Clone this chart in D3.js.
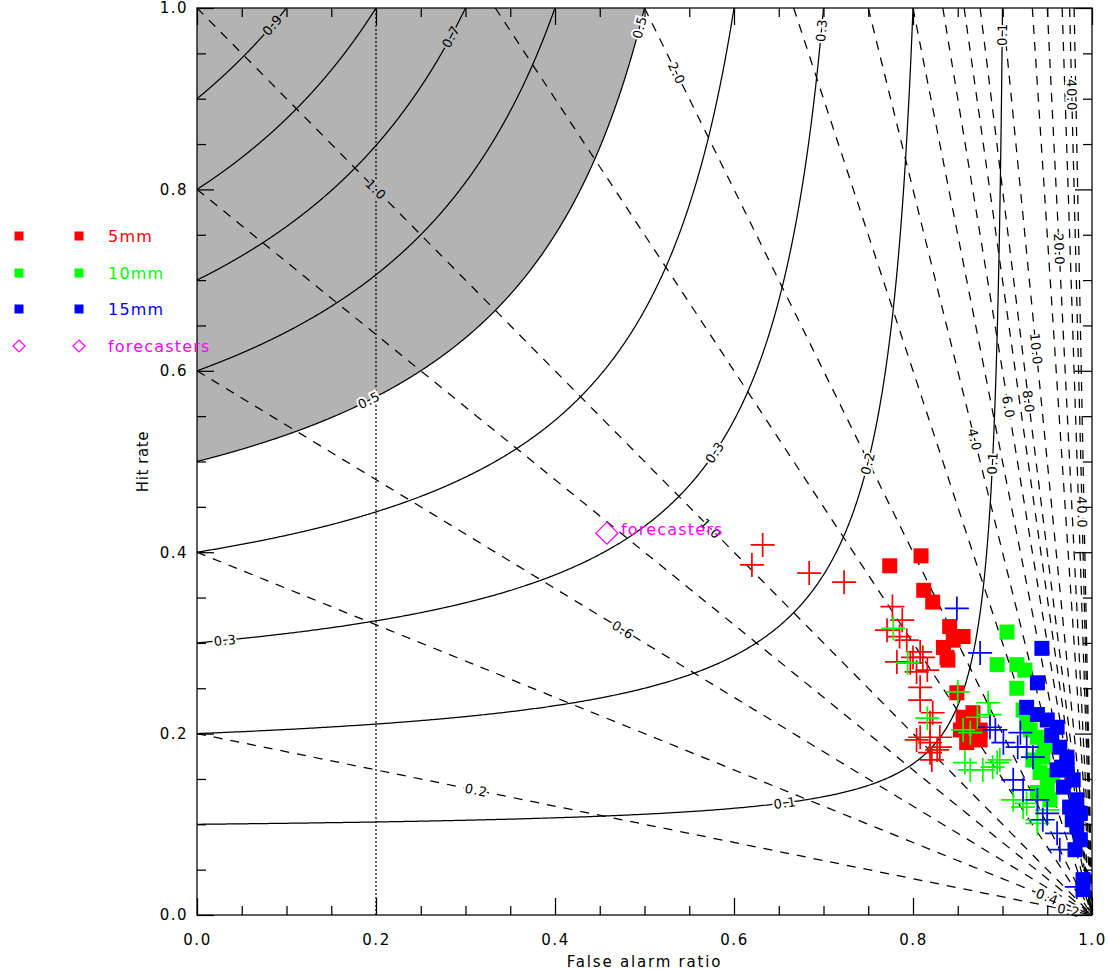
<!DOCTYPE html>
<html>
<head>
<meta charset="utf-8">
<script src="https://cdn.jsdelivr.net/npm/d3@7"></script>
<style>
  body { margin: 0; background: #fff; }
  text { font-family: "DejaVu Sans", sans-serif; }
</style>
</head>
<body>
<svg id="chart" width="1109" height="970"></svg>
<script>
// ---- contour levels ----
const csiLevels  = [0.1, 0.2, 0.3, 0.4, 0.5, 0.6, 0.7, 0.8, 0.9];
const biasLevels = [0.2, 0.4, 0.6, 0.8, 1.0, 1.5, 2.0, 3.0, 4.0, 5.0, 6.0, 7.0, 8.0, 10.0, 15.0, 20.0, 30.0, 40.0, 50.0];

// ---- axis ticks ----
const majorTicks = [0.0, 0.2, 0.4, 0.6, 0.8, 1.0];
const tickLabels = ["0.0", "0.2", "0.4", "0.6", "0.8", "1.0"];
const minorTicks = [0.05, 0.1, 0.15, 0.25, 0.3, 0.35, 0.45, 0.5, 0.55, 0.65, 0.7, 0.75, 0.85, 0.9, 0.95];

// ---- contour labels: [level, FAR, hit rate] near where each label sits ----
const csiLabels = [
  [0.9, 0.082, 0.983], [0.7, 0.285, 0.968], [0.5, 0.495, 0.979], [0.5, 0.193, 0.566],
  [0.3, 0.696, 0.976], [0.3, 0.031, 0.301], [0.3, 0.585, 0.506], [0.2, 0.746, 0.499],
  [0.1, 0.657, 0.121], [0.1, 0.900, 0.970], [0.1, 0.889, 0.498]
];
const biasLabels = [
  [1.0, 0.201, 0.799], [1.0, 0.575, 0.425], [2.0, 0.534, 0.927], [0.6, 0.473, 0.311],
  [0.2, 0.311, 0.136], [4.0, 0.867, 0.524], [6.0, 0.905, 0.559], [8.0, 0.928, 0.565],
  [10.0, 0.934, 0.624], [20.0, 0.955, 0.733], [40.0, 0.987, 0.444], [40.0, 0.976, 0.903],
  [0.4, 0.950, 0.020], [0.2, 0.975, 0.006]
];

// ---- verification results: [false alarm ratio, hit rate] ----
const red5mmSquares = [
  [0.774,0.385],[0.809,0.396],[0.812,0.358],[0.822,0.345],[0.841,0.318],[0.856,0.307],
  [0.845,0.303],[0.834,0.295],[0.839,0.281],[0.849,0.307],[0.838,0.284],[0.849,0.245],
  [0.856,0.218],[0.867,0.207],[0.875,0.193],[0.860,0.190],[0.853,0.204],[0.867,0.223],
  [0.875,0.204]
];
const red5mmPlus = [
  [0.632,0.408],[0.620,0.386],[0.684,0.377],[0.723,0.367],[0.777,0.340],[0.771,0.314],
  [0.788,0.325],[0.785,0.307],[0.793,0.303],[0.808,0.290],[0.782,0.279],[0.797,0.278],
  [0.811,0.284],[0.816,0.270],[0.804,0.268],[0.808,0.251],[0.808,0.237],[0.822,0.223],
  [0.819,0.212],[0.804,0.193],[0.819,0.190],[0.827,0.182],[0.821,0.171],[0.830,0.196],
  [0.808,0.196],[0.830,0.185],[0.819,0.179],[0.800,0.284]
];
const green10mmSquares = [
  [0.905,0.312],[0.894,0.276],[0.916,0.276],[0.925,0.270],[0.916,0.250],[0.923,0.226],
  [0.931,0.204],[0.939,0.196],[0.927,0.212],[0.945,0.174],[0.942,0.157],[0.950,0.141],
  [0.939,0.135],[0.953,0.127],[0.934,0.171],[0.956,0.154],[0.947,0.187]
];
const green10mmPlus = [
  [0.778,0.316],[0.794,0.278],[0.816,0.217],[0.850,0.246],[0.884,0.234],[0.872,0.218],
  [0.886,0.221],[0.864,0.201],[0.858,0.168],[0.878,0.160],[0.894,0.168],[0.897,0.171],
  [0.912,0.127],[0.923,0.119],[0.939,0.105],[0.950,0.116],[0.927,0.123],[0.939,0.101],
  [0.856,0.204],[0.889,0.163],[0.864,0.160]
];
const blue15mmSquares = [
  [0.944,0.294],[0.939,0.256],[0.927,0.229],[0.939,0.221],[0.950,0.215],[0.961,0.207],
  [0.964,0.185],[0.972,0.174],[0.966,0.163],[0.972,0.160],[0.968,0.141],[0.979,0.149],
  [0.983,0.127],[0.975,0.119],[0.987,0.112],[0.983,0.097],[0.987,0.083],[0.981,0.072],
  [0.990,0.039],[0.990,0.028],[0.961,0.160],[0.972,0.168],[0.955,0.198],[0.978,0.105]
];
const blue15mmPlus = [
  [0.849,0.338],[0.875,0.289],[0.886,0.207],[0.901,0.190],[0.920,0.201],[0.927,0.185],
  [0.912,0.149],[0.923,0.138],[0.939,0.127],[0.950,0.112],[0.961,0.090],[0.964,0.072],
  [0.983,0.031],[0.934,0.174],[0.945,0.105],[0.917,0.185],[0.892,0.204]
];
const forecasters = [[0.458, 0.421]];

// ---- legend ----
const legendNames  = ["5mm", "10mm", "15mm", "forecasters"];
const legendColors = ["#ff0000", "#00ff00", "#0000ff", "#ff00ff"];
const legendShapes = ["square", "square", "square", "diamond"];

// ---- layout ----
const svg = d3.select("#chart");
const x = d3.scaleLinear().domain([0, 1]).range([197, 1092]);
const y = d3.scaleLinear().domain([0, 1]).range([915, 8]);
const GRAY = "#b3b3b3";

const csiOf = (f, p) => 1 / (1 / p + 1 / (1 - f) - 1);

function csiCurve(c) {
  const pts = [];
  const fMax = 1 - c, n = 400;
  for (let i = 0; i <= n; i++) {
    const f = fMax * i / n;
    pts.push([f, Math.min(1, 1 / (1 / c + 1 - 1 / (1 - f)))]);
  }
  for (let i = 0; i <= n; i++) {
    const p = c + (1 - c) * i / n;
    pts.push([Math.max(0, 1 - 1 / (1 / c + 1 - 1 / p)), p]);
  }
  pts.sort((a, b) => a[0] - b[0] || a[1] - b[1]);
  return pts;
}
function biasLine(b) {
  return [[Math.max(0, 1 - 1 / b), Math.min(1, b)], [1, 0]];
}

const line = d3.line().x(d => x(d[0])).y(d => y(d[1]));

// shaded region of CSI above 0.5
const c05 = csiCurve(0.5);
svg.append("path")
  .attr("d", line(c05.concat([[0, 1]])) + "Z")
  .attr("fill", GRAY).attr("stroke", "none");

// CSI contours (solid)
const gCsi = svg.append("g");
csiLevels.forEach(c => {
  gCsi.append("path").attr("d", line(csiCurve(c)))
    .attr("fill", "none").attr("stroke", "#000").attr("stroke-width", 1.25);
});

// frequency bias contours (dashed)
const gBias = svg.append("g");
biasLevels.forEach(b => {
  gBias.append("path").attr("d", line(biasLine(b)))
    .attr("fill", "none").attr("stroke", "#000").attr("stroke-width", 1.25)
    .attr("stroke-dasharray", "9,8");
});

// dotted reference line at FAR = 0.2
svg.append("path").attr("d", line([[0.2, 0], [0.2, 1]]))
  .attr("fill", "none").attr("stroke", "#000").attr("stroke-width", 1.25)
  .attr("stroke-dasharray", "2,2");

// contour labels, oriented along their line
function placeLabel(pts, f, p, text) {
  const px = pts.map(d => [x(d[0]), y(d[1])]);
  const tx = x(f), ty = y(p);
  let best = 0, bd = Infinity;
  px.forEach((d, i) => { const dd = (d[0] - tx) ** 2 + (d[1] - ty) ** 2; if (dd < bd) { bd = dd; best = i; } });
  const P = px[best];
  let j = best, k = best;
  while (j < px.length - 1 && Math.hypot(px[j][0] - P[0], px[j][1] - P[1]) < 6) j++;
  while (k > 0 && Math.hypot(px[k][0] - P[0], px[k][1] - P[1]) < 6) k--;
  let ang = Math.atan2(px[j][1] - px[k][1], px[j][0] - px[k][0]) * 180 / Math.PI;
  if (ang > 90) ang -= 180;
  if (ang <= -90) ang += 180;
  const df = x.invert(P[0]), dp = y.invert(P[1]);
  const bg = (df < 1 && dp > 0 && csiOf(df, dp) > 0.51) ? GRAY : "#fff";
  svg.append("text")
    .attr("transform", `translate(${P[0]},${P[1]}) rotate(${ang})`)
    .attr("text-anchor", "middle").attr("dy", "0.36em")
    .attr("font-size", 13).attr("letter-spacing", 0.8)
    .attr("fill", "#000").attr("stroke", bg).attr("stroke-width", 4)
    .attr("paint-order", "stroke")
    .text(text);
}
const fmt = d3.format(".1f");
csiLabels.forEach(([c, f, p]) => placeLabel(csiCurve(c), f, p, fmt(c)));
biasLabels.forEach(([b, f, p]) => {
  const seg = biasLine(b);
  const pts = d3.range(0, 1.0001, 0.002).map(t => [seg[0][0] + (seg[1][0] - seg[0][0]) * t, seg[0][1] + (seg[1][1] - seg[0][1]) * t]);
  placeLabel(pts, f, p, fmt(b));
});

// data marks
const gMarks = svg.append("g");
function squares(data, color, size) {
  gMarks.selectAll(null).data(data).enter().append("rect")
    .attr("x", d => x(d[0]) - size / 2).attr("y", d => y(d[1]) - size / 2)
    .attr("width", size).attr("height", size).attr("fill", color);
}
function pluses(data, color) {
  gMarks.selectAll(null).data(data).enter().append("path")
    .attr("transform", d => `translate(${x(d[0])},${y(d[1])})`)
    .attr("d", "M-12,0H12M0,-12V12")
    .attr("stroke", color).attr("stroke-width", 1.7).attr("fill", "none");
}
squares(red5mmSquares, "#ff0000", 15);
squares(green10mmSquares, "#00ff00", 15);
squares(blue15mmSquares, "#0000ff", 15);
pluses(red5mmPlus, "#ff0000");
pluses(green10mmPlus, "#00ff00");
pluses(blue15mmPlus, "#0000ff");

gMarks.selectAll(null).data(forecasters).enter().append("path")
  .attr("transform", d => `translate(${x(d[0])},${y(d[1])})`)
  .attr("d", "M0,-11L11,0L0,11L-11,0Z")
  .attr("fill", "none").attr("stroke", "#ff00ff").attr("stroke-width", 1.3);
gMarks.selectAll(null).data(forecasters).enter().append("text")
  .attr("x", d => x(d[0]) + 14).attr("y", d => y(d[1]) - 4)
  .attr("dy", "0.36em").attr("font-size", 16).attr("letter-spacing", 1.2)
  .attr("fill", "#ff00ff").text("forecasters");

// frame and axes
svg.append("rect").attr("x", x(0)).attr("y", y(1))
  .attr("width", x(1) - x(0)).attr("height", y(0) - y(1))
  .attr("fill", "none").attr("stroke", "#000").attr("stroke-width", 1.25);

function styleAxis(g) {
  g.select(".domain").remove();
  g.selectAll(".tick line").attr("stroke", "#000").attr("stroke-width", 1.25);
  g.selectAll(".tick text").attr("font-size", 15).attr("letter-spacing", 1.5)
    .attr("fill", "#000").attr("font-family", "DejaVu Sans, sans-serif");
}
const lab = d => tickLabels[majorTicks.indexOf(d)];
svg.append("g").attr("transform", `translate(0,${y(0)})`)
  .call(d3.axisBottom(x).tickValues(majorTicks).tickSize(-17).tickPadding(19).tickFormat(lab)).call(styleAxis);
svg.append("g").attr("transform", `translate(0,${y(0)})`)
  .call(d3.axisBottom(x).tickValues(minorTicks).tickSize(-9).tickFormat("")).call(styleAxis);
svg.append("g").attr("transform", `translate(0,${y(1)})`)
  .call(d3.axisTop(x).tickValues(majorTicks).tickSize(-17).tickFormat("")).call(styleAxis);
svg.append("g").attr("transform", `translate(0,${y(1)})`)
  .call(d3.axisTop(x).tickValues(minorTicks).tickSize(-9).tickFormat("")).call(styleAxis);
svg.append("g").attr("transform", `translate(${x(0)},0)`)
  .call(d3.axisLeft(y).tickValues(majorTicks).tickSize(-17).tickPadding(9).tickFormat(lab)).call(styleAxis);
svg.append("g").attr("transform", `translate(${x(0)},0)`)
  .call(d3.axisLeft(y).tickValues(minorTicks).tickSize(-9).tickFormat("")).call(styleAxis);
svg.append("g").attr("transform", `translate(${x(1)},0)`)
  .call(d3.axisRight(y).tickValues(majorTicks).tickSize(-17).tickFormat("")).call(styleAxis);
svg.append("g").attr("transform", `translate(${x(1)},0)`)
  .call(d3.axisRight(y).tickValues(minorTicks).tickSize(-9).tickFormat("")).call(styleAxis);

svg.append("text").attr("x", (x(0) + x(1)) / 2).attr("y", 967)
  .attr("text-anchor", "middle").attr("font-size", 15).attr("letter-spacing", 1.8)
  .text("False alarm ratio");
svg.append("text")
  .attr("transform", `translate(148,${(y(0) + y(1)) / 2}) rotate(-90)`)
  .attr("text-anchor", "middle").attr("font-size", 15).attr("letter-spacing", 0.6)
  .text("Hit rate");

// legend
const legendRowY = [236, 273, 309, 346];
const legendSymX = [19, 79];
const gLeg = svg.append("g");
legendNames.forEach((name, i) => {
  legendSymX.forEach(sx => {
    if (legendShapes[i] === "square") {
      gLeg.append("rect").attr("x", sx - 4.5).attr("y", legendRowY[i] - 4.5)
        .attr("width", 9).attr("height", 9).attr("fill", legendColors[i]);
    } else {
      gLeg.append("path").attr("transform", `translate(${sx},${legendRowY[i]})`)
        .attr("d", "M0,-6L6,0L0,6L-6,0Z").attr("fill", "none")
        .attr("stroke", legendColors[i]).attr("stroke-width", 1.2);
    }
  });
  gLeg.append("text").attr("x", 108).attr("y", legendRowY[i]).attr("dy", "0.36em")
    .attr("font-size", 16).attr("letter-spacing", 1.2)
    .attr("fill", legendColors[i]).text(name);
});
</script>
</body>
</html>
